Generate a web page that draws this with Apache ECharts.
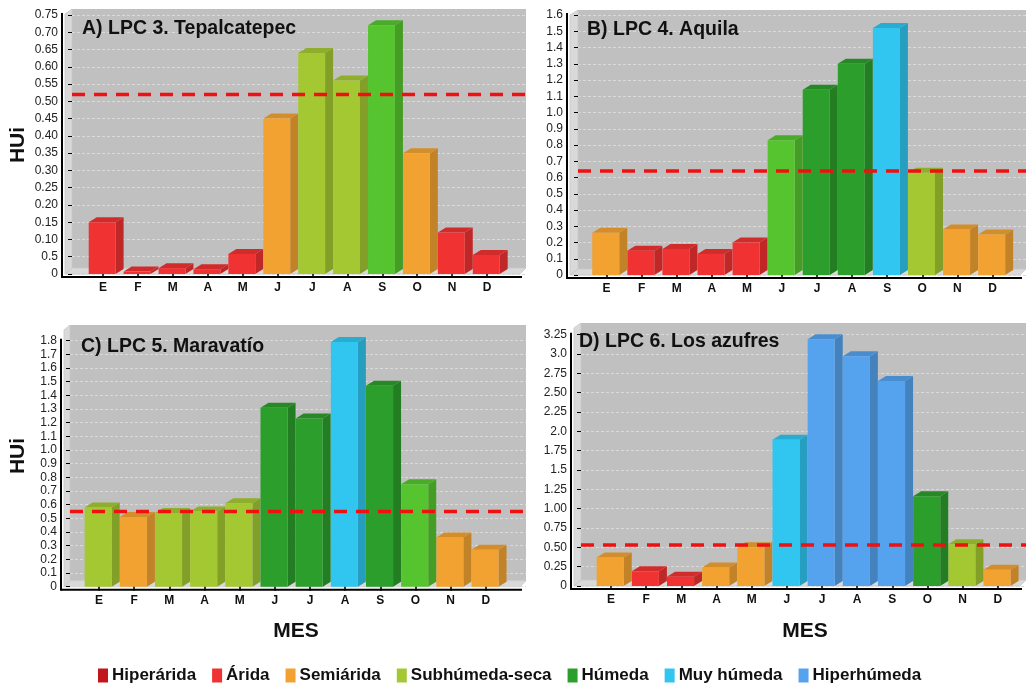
<!DOCTYPE html>
<html>
<head>
<meta charset="utf-8">
<script src="https://cdn.jsdelivr.net/npm/echarts@6/dist/echarts.min.js"></script>
<style>
html,body{margin:0;padding:0;background:#fff;}
#c{width:1026px;height:683px;}
</style>
</head>
<body>
<div id="c"></div>
<script>
// ---------------- DATA ----------------
const MONTHS = ['E','F','M','A','M','J','J','A','S','O','N','D'];
const CLASS_NAMES = ['Hiperárida','Árida','Semiárida','Subhúmeda-seca','Húmeda','Muy húmeda','Hiperhúmeda','Húmeda (clara)'];
const LEGEND_NAMES = ['Hiperárida','Árida','Semiárida','Subhúmeda-seca','Húmeda','Muy húmeda','Hiperhúmeda'];

const TITLE_A = 'A) LPC 3. Tepalcatepec';
const VALUES_A = [0.15,0.007,0.017,0.014,0.058,0.45,0.64,0.56,0.72,0.35,0.12,0.055];
const CLASS_A  = [1,1,1,1,1,2,3,3,7,2,1,1];
const REF_A = 0.52;
const TICKS_A = ['0','0.5','0.10','0.15','0.20','0.25','0.30','0.35','0.40','0.45','0.50','0.55','0.60','0.65','0.70','0.75'];

const TITLE_B = 'B) LPC 4. Aquila';
const VALUES_B = [0.26,0.15,0.16,0.13,0.20,0.83,1.14,1.30,1.52,0.63,0.28,0.25];
const CLASS_B  = [2,1,1,1,1,7,4,4,5,3,2,2];
const REF_B = 0.64;
const TICKS_B = ['0','0.1','0.2','0.3','0.4','0.5','0.6','0.7','0.8','0.9','1.0','1.1','1.2','1.3','1.4','1.5','1.6'];

const TITLE_C = 'C) LPC 5. Maravatío';
const VALUES_C = [0.58,0.51,0.54,0.55,0.61,1.31,1.23,1.79,1.47,0.75,0.36,0.27];
const CLASS_C  = [3,2,3,3,3,4,4,5,4,7,2,2];
const REF_C = 0.55;
const TICKS_C = ['0','0.1','0.2','0.3','0.4','0.5','0.6','0.7','0.8','0.9','1.0','1.1','1.2','1.3','1.4','1.5','1.6','1.7','1.8'];

const TITLE_D = 'D) LPC 6. Los azufres';
const VALUES_D = [0.37,0.19,0.12,0.24,0.50,1.89,3.19,2.97,2.65,1.16,0.54,0.21];
const CLASS_D  = [2,1,1,2,2,5,6,6,6,4,3,2];
const REF_D = 0.53;
const TICKS_D = ['0','0.25','0.50','0.75','1.00','1.25','1.5','1.75','2.0','2.25','2.50','2.75','3.0','3.25'];

const Y_AXIS_NAME = 'HUi';
const X_AXIS_NAME = 'MES';

// ---------------- STYLE / LAYOUT ----------------
const CLASS_COLORS = ['#c3151c','#f03232','#f2a231','#a3c832','#2c9e2c','#30c6ef','#55a2ee','#55c42e'];
const FONT = "'Liberation Sans', Arial, sans-serif";

const PANELS = [
  {title:TITLE_A, values:VALUES_A, cls:CLASS_A, ref:REF_A, ticks:TICKS_A, max:0.75, interval:0.05,
   axisX:62, wallL:72, wallR:526, top:15, zero:274, pTop:9, left:85.5, width:419, tx:82, ty:29},
  {title:TITLE_B, values:VALUES_B, cls:CLASS_B, ref:REF_B, ticks:TICKS_B, max:1.6, interval:0.1,
   axisX:567, wallL:578, wallR:1026, top:15, zero:275, pTop:10, left:589, width:421, tx:587, ty:30},
  {title:TITLE_C, values:VALUES_C, cls:CLASS_C, ref:REF_C, ticks:TICKS_C, max:1.8, interval:0.1,
   axisX:61, wallL:70, wallR:526, top:340.7, zero:586.7, pTop:325, left:81.4, width:422, tx:81, ty:347},
  {title:TITLE_D, values:VALUES_D, cls:CLASS_D, ref:REF_D, ticks:TICKS_D, max:3.25, interval:0.25,
   axisX:571, wallL:581, wallR:1026, top:334.7, zero:586, pTop:323, left:593.4, width:422, tx:579, ty:342}
];

function shade(hex, f){
  const n = parseInt(hex.slice(1),16);
  const r = Math.round(((n>>16)&255)*f), g = Math.round(((n>>8)&255)*f), b = Math.round((n&255)*f);
  return 'rgb('+r+','+g+','+b+')';
}

function render3D(params, api){
  const xi = api.value(0), v = api.value(1);
  const t = api.coord([xi, v]);
  const b = api.coord([xi, 0]);
  const band = api.size([1, 0])[0];
  const w = band * 0.77, dx = 8, dy = 5;
  const x0 = t[0] - w/2 - 0.8, x1 = x0 + w;
  const yt = t[1], yb = b[1];
  const col = api.visual('color');
  return {type:'group', children:[
    {type:'polygon', shape:{points:[[x1,yb],[x1+dx,yb-dy],[x1+dx,yt-dy],[x1,yt]]}, style:{fill:shade(col,0.8)}},
    {type:'polygon', shape:{points:[[x0,yt],[x0+dx,yt-dy],[x1+dx,yt-dy],[x1,yt]]}, style:{fill:shade(col,0.87)}},
    {type:'rect', shape:{x:x0, y:yt, width:w, height:Math.max(0, yb-yt)}, style:{fill:col}}
  ]};
}

const grid = [], xAxis = [], yAxis = [], series = [], graphic = [];

PANELS.forEach((p, pi) => {
  const h = p.zero - p.top;
  grid.push({left:p.left, top:p.top, width:p.width, height:h});
  grid.push({left:p.wallL, top:p.top, width:p.wallR - p.wallL, height:h});
  xAxis.push({type:'category', gridIndex:2*pi, data:MONTHS, offset:3,
    axisLine:{show:false},
    axisTick:{show:true, alignWithLabel:true, length:4, lineStyle:{color:'#000', width:1.5}},
    axisLabel:{color:'#111', fontFamily:FONT, fontWeight:'bold', fontSize:12, margin:5},
    splitLine:{show:false}, z:5});
  xAxis.push({type:'value', gridIndex:2*pi+1, min:0, max:1, show:false});
  yAxis.push({type:'value', gridIndex:2*pi, min:0, max:p.max, interval:p.interval, show:false});
  const ticks = p.ticks;
  yAxis.push({type:'value', gridIndex:2*pi+1, min:0, max:p.max, interval:p.interval,
    offset:p.wallL - p.axisX,
    axisLine:{show:false},
    axisTick:{show:true, length:4, lineStyle:{color:'#000', width:1}},
    axisLabel:{color:'#222', fontFamily:FONT, fontSize:12, margin:4,
      formatter:(val, idx) => ticks[idx] !== undefined ? ticks[idx] : ''},
    splitLine:{show:true, lineStyle:{color:'#dadada', type:[3,2], width:1}}});

  CLASS_NAMES.forEach((name, k) => {
    const data = [];
    p.values.forEach((v, i) => { if (p.cls[i] === k) data.push([i, v]); });
    series.push({type:'custom', name:name, xAxisIndex:2*pi, yAxisIndex:2*pi,
      renderItem:render3D, encode:{x:0, y:1}, data:data, z:3,
      itemStyle:{color:CLASS_COLORS[k]}, silent:true});
  });
  series.push({type:'line', xAxisIndex:2*pi+1, yAxisIndex:2*pi+1,
    data:[[0, p.ref],[1, p.ref]], symbol:'none', silent:true, z:10,
    lineStyle:{color:'#f01010', width:3.5, type:[13,9]}});

  graphic.push({type:'rect', z:-10, shape:{x:p.wallL, y:p.pTop, width:p.wallR - p.wallL, height:(p.zero-6) - p.pTop},
    style:{fill:'#c0c0c0'}});
  graphic.push({type:'polygon', z:-9, shape:{points:[[p.axisX+3, p.pTop+5],[p.wallL, p.pTop],[p.wallL, p.zero-6],[p.axisX+3, p.zero]]},
    style:{fill:'#d9d9d9', stroke:'#c8c8c8', lineWidth:0.8}});
  graphic.push({type:'polygon', z:-9, shape:{points:[[p.axisX+3, p.zero],[p.wallL, p.zero-6],[p.wallR, p.zero-6],[p.wallR-6, p.zero]]},
    style:{fill:'#d9d9d9', stroke:'#c8c8c8', lineWidth:0.8}});
  graphic.push({type:'line', z:20, shape:{x1:p.axisX, y1:p.top-2, x2:p.axisX, y2:p.zero+4},
    style:{stroke:'#000', lineWidth:2}});
  graphic.push({type:'line', z:20, shape:{x1:p.axisX, y1:p.zero+3, x2:p.wallR-4, y2:p.zero+3},
    style:{stroke:'#000', lineWidth:2}});
  graphic.push({type:'text', z:30, x:p.tx, y:p.ty,
    style:{text:p.title, fill:'#111', font:'bold 19.5px ' + FONT, textVerticalAlign:'middle', textAlign:'left'}});
});

graphic.push({type:'text', z:30, x:18, y:145, rotation:Math.PI/2,
  style:{text:Y_AXIS_NAME, fill:'#111', font:'bold 21px ' + FONT, textAlign:'center', textVerticalAlign:'middle'}});
graphic.push({type:'text', z:30, x:18, y:456, rotation:Math.PI/2,
  style:{text:Y_AXIS_NAME, fill:'#111', font:'bold 21px ' + FONT, textAlign:'center', textVerticalAlign:'middle'}});
graphic.push({type:'text', z:30, x:296, y:631,
  style:{text:X_AXIS_NAME, fill:'#111', font:'bold 21px ' + FONT, textAlign:'center', textVerticalAlign:'middle'}});
graphic.push({type:'text', z:30, x:805, y:631,
  style:{text:X_AXIS_NAME, fill:'#111', font:'bold 21px ' + FONT, textAlign:'center', textVerticalAlign:'middle'}});

const chart = echarts.init(document.getElementById('c'), null, {renderer:'canvas'});
chart.setOption({
  backgroundColor:'#ffffff',
  animation:false,
  legend:{data:LEGEND_NAMES, left:93, top:662, itemWidth:10, itemHeight:14, itemGap:16, icon:'rect',
    textStyle:{fontFamily:FONT, fontWeight:'bold', fontSize:17, color:'#111', padding:[0,0,0,-1]}},
  grid, xAxis, yAxis, series, graphic
});
</script>
</body>
</html>
